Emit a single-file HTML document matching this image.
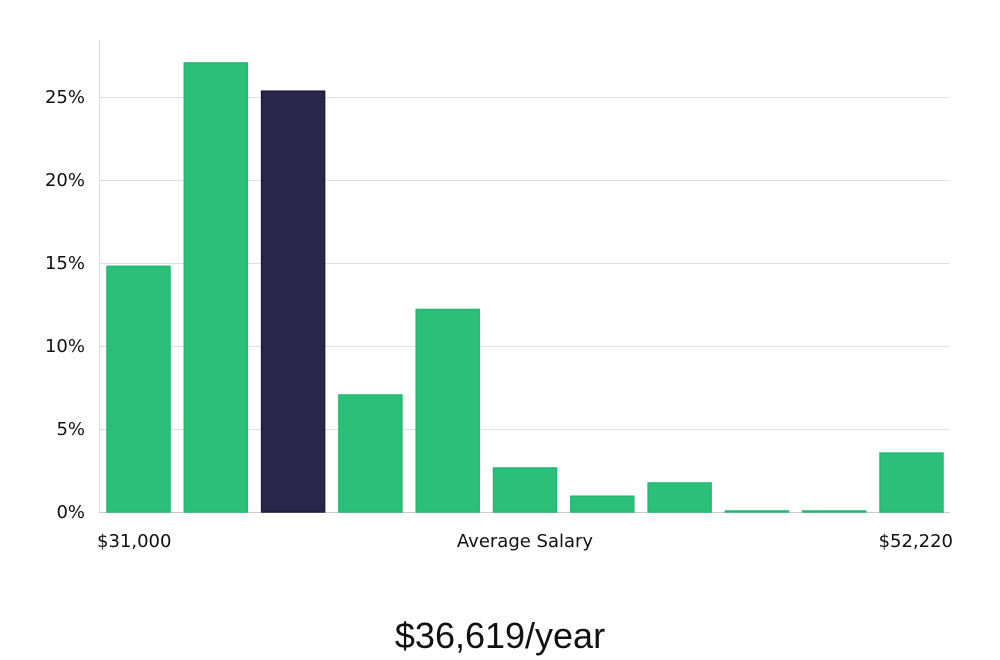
<!DOCTYPE html>
<html><head><meta charset="utf-8"><style>
html,body{margin:0;padding:0;background:#fff;width:1000px;height:660px;overflow:hidden}
svg text{font-family:"DejaVu Sans","Liberation Sans",sans-serif;fill:#111}
</style></head><body>
<svg id="chart" width="1000" height="660" xmlns="http://www.w3.org/2000/svg">
<g id="grid"></g>
<line x1="99.5" y1="40" x2="99.5" y2="512" stroke="#ddd" stroke-width="1"/>
<g id="yticks"></g>
<g id="bars"></g>
<text x="97" y="547" font-size="18">$31,000</text>
<text x="525" y="547" font-size="18" text-anchor="middle">Average Salary</text>
<text x="953" y="547" font-size="18" text-anchor="end">$52,220</text>
<text x="500" y="648" font-size="36" text-anchor="middle" style="font-family:'Liberation Sans',sans-serif;font-weight:300" fill="#222">$36,619/year</text>
</svg>
<script>
const values = [14.8, 27.05, 25.35, 7.05, 12.2, 2.65, 0.95, 1.75, 0.06, 0.06, 3.55];
const highlightIndex = [2];
const tickValues = [0, 5, 10, 15, 20, 25];
const tickLabels = ["0%", "5%", "10%", "15%", "20%", "25%"];
const NS = "http://www.w3.org/2000/svg";
const y0 = 512, pxPerPct = 83/5;
const yScale = v => y0 - v * pxPerPct;
const xStart = 107, step = 77.3, bw = 63;
const xScale = i => xStart + i * step;
const grid = document.getElementById('grid'), yt = document.getElementById('yticks'), bars = document.getElementById('bars');
tickValues.forEach((t, i) => {
  const y = yScale(t);
  const l = document.createElementNS(NS, 'line');
  
  
  l.setAttribute('x1', 99); l.setAttribute('x2', 950);
  l.setAttribute('y1', y + 0.5); l.setAttribute('y2', y + 0.5);
  l.setAttribute('stroke', t === 0 ? '#ccc' : '#e0e0e0');
  grid.appendChild(l);
  const tx = document.createElementNS(NS, 'text');
  
  
  tx.setAttribute('x', 85); tx.setAttribute('y', y + 6);
  tx.setAttribute('text-anchor', 'end'); tx.setAttribute('font-size', '18');
  tx.textContent = tickLabels[i];
  yt.appendChild(tx);
});
values.forEach((v, i) => {
  const r = document.createElementNS(NS, 'rect');
  
  
  const top = yScale(v);
  r.setAttribute('x', xScale(i)); r.setAttribute('width', bw);
  r.setAttribute('y', top); r.setAttribute('height', Math.max(1, y0 - top));
  const hi = highlightIndex.includes(i);
  r.setAttribute('fill', hi ? '#29264a' : '#2cbf79');
  r.setAttribute('stroke', hi ? '#1d1a40' : '#22b870');
  r.setAttribute('stroke-width', '1.5');
  bars.appendChild(r);
});
</script>
</body></html>
